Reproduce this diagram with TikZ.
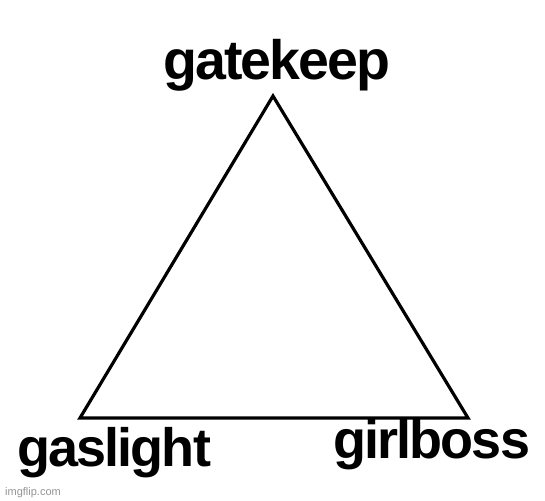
\documentclass[tikz,border=0pt]{standalone}
\usepackage{fontspec}
\setmainfont{Liberation Sans}
\newfontfamily\tightfont[LetterSpace=-3.5]{Liberation Sans}
\begin{document}
\begin{tikzpicture}[x=1pt,y=-1pt,
  lbl/.style={anchor=base west,inner sep=0pt,font=\tightfont\fontsize{54}{60}\selectfont\bfseries},
  wm/.style={anchor=base west,inner sep=0pt,text=black!42,font=\fontsize{11}{13}\selectfont}]
\useasboundingbox[fill=white] (0,0) rectangle (545,500);
\coordinate (top) at (273,96);
\coordinate (bl) at (80,418);
\coordinate (br) at (468,418);
\draw[line width=3.2pt,miter limit=20] (top) -- (br) -- (bl) -- cycle;
\node[lbl,font=\tightfont\fontsize{55.5}{60}\selectfont\bfseries] (gk) at (163,80) {gatekeep};
\node[lbl] (gs) at (17,466) {gaslight};
\node[lbl] (gb) at (333,458) {girlboss};
\node[wm] (ws) at (5,495) {imgflip.com};
\end{tikzpicture}
\end{document}
